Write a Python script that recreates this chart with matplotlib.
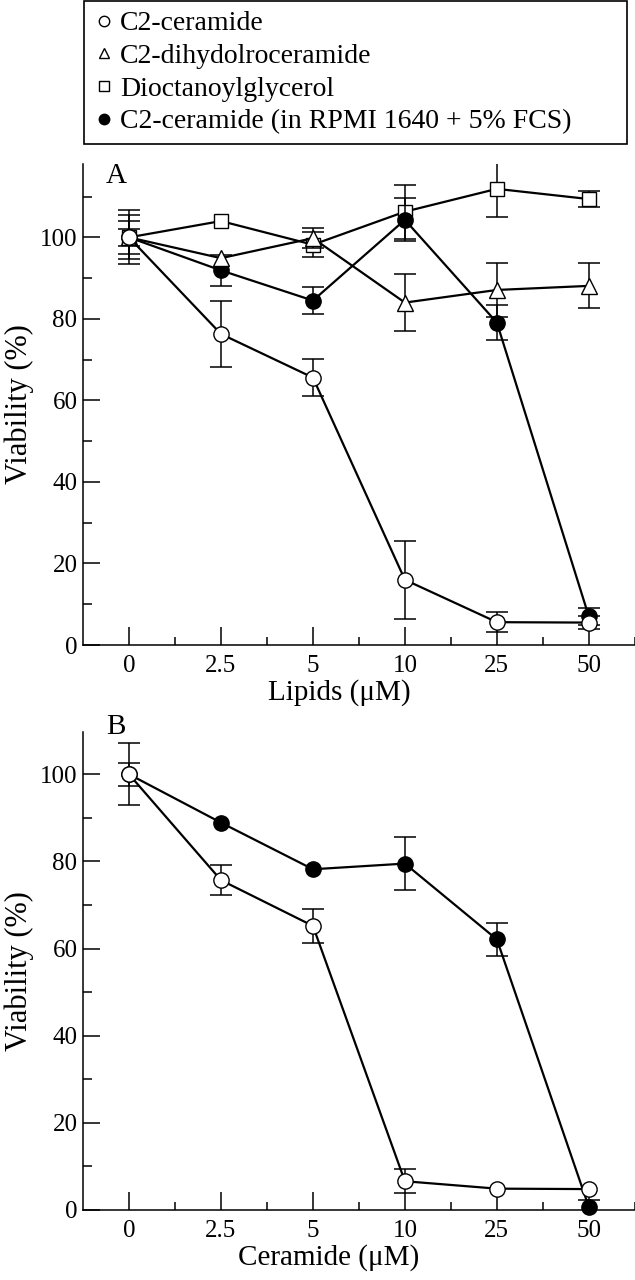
import numpy as np
import matplotlib.pyplot as plt
from matplotlib.lines import Line2D

plt.rcParams['font.family'] = ['Liberation Serif', 'DejaVu Serif']

# dose categories (evenly spaced on the x axis)
doses = ['0', '2.5', '5', '10', '25', '50']

# panel A: viability (%) and error
cer_a = [100, 76.3, 65.6, 16.0, 5.6, 5.5]
cer_a_err = [6.6, 8.2, 4.6, 9.5, 2.5, 1.5]
dihydro_a = [100, 94.9, 99.8, 84.0, 87.1, 88.1]
dihydro_a_err = [4.1, 0, 2.4, 7.0, 6.6, 5.5]
dog_a = [100, 104.0, 98.2, 106.3, 111.9, 109.4]
dog_a_err = [5.4, 0, 3.1, 6.6, 7.0, 2.0]
fcs_a = [100, 91.9, 84.5, 104.3, 79.1, 7.0]
fcs_a_err = [2.0, 3.8, 3.4, 5.3, 4.3, 2.0]

# panel B
cer_b = [100, 75.7, 65.2, 6.6, 4.9, 4.8]
cer_b_err = [7.1, 3.5, 3.9, 2.7, 0, 0]
fcs_b = [100, 88.9, 78.2, 79.5, 62.1, 0.7]
fcs_b_err = [2.7, 0, 0, 6.0, 3.7, 1.5]

labels = ['C2-ceramide', 'C2-dihydolroceramide', 'Dioctanoylglycerol',
          'C2-ceramide (in RPMI 1640 + 5% FCS)']

styles = {
    'cer': dict(marker='o', mfc='white', ms=11),
    'dihydro': dict(marker='^', mfc='white', ms=11.5),
    'dog': dict(marker='s', mfc='white', ms=10),
    'fcs': dict(marker='o', mfc='black', ms=11),
}

x = np.arange(len(doses))


def draw(ax, y, err, st, z):
    y = np.asarray(y, float)
    err = np.asarray(err, float)
    m = err > 0
    ax.errorbar(x[m], y[m], yerr=err[m], fmt='none', ecolor='black',
                elinewidth=1.1, capsize=8, capthick=1.1, zorder=z)
    ax.plot(x, y, color='black', lw=1.6, mec='black', mew=1.0,
            zorder=z + 0.5, clip_on=False, **st)


def style_axes(ax, top, xlabel, label_x, letter, letter_y):
    ax.set_xlim(-0.5, 5.5)
    ax.set_ylim(0, top)
    ax.spines['top'].set_visible(False)
    ax.spines['right'].set_visible(False)
    for s in ('left', 'bottom'):
        ax.spines[s].set_linewidth(1.1)
    ax.set_xticks(x)
    ax.set_xticklabels(doses)
    ax.set_xticks(np.arange(0.5, 5.6, 1.0), minor=True)
    ax.set_yticks(np.arange(0, 101, 20))
    ax.set_yticks(np.arange(10, top, 20), minor=True)
    ax.tick_params(axis='x', which='major', direction='in', length=13,
                   width=1.1, pad=7, labelsize=18)
    ax.tick_params(axis='x', which='minor', direction='in', length=6,
                   width=1.1)
    ax.tick_params(axis='y', which='major', direction='in', length=12,
                   width=1.1, pad=4, labelsize=18)
    ax.tick_params(axis='y', which='minor', direction='in', length=6.5,
                   width=1.1)
    ax.set_xlabel(xlabel, fontsize=21, x=label_x, labelpad=2)
    ax.set_ylabel('Viability (%)', fontsize=22, labelpad=4)
    ax.text(0.06, letter_y, letter, transform=ax.transAxes, fontsize=21,
            ha='center', va='center')


fig = plt.figure(figsize=(6.35, 12.8), dpi=100)
axA = fig.add_axes([83 / 635, 1 - 645 / 1280, 0.869, 481 / 1280])
axB = fig.add_axes([83 / 635, 1 - 1210 / 1280, 0.869, 478 / 1280])

draw(axA, dog_a, dog_a_err, styles['dog'], 3)
draw(axA, fcs_a, fcs_a_err, styles['fcs'], 4)
draw(axA, dihydro_a, dihydro_a_err, styles['dihydro'], 5)
draw(axA, cer_a, cer_a_err, styles['cer'], 6)
style_axes(axA, 118, 'Lipids (μM)', 0.465, 'A', 0.975)

draw(axB, fcs_b, fcs_b_err, styles['fcs'], 4)
draw(axB, cer_b, cer_b_err, styles['cer'], 6)
style_axes(axB, 109.7, 'Ceramide (μM)', 0.445, 'B', 1.01)

handles = [Line2D([], [], ls='none', color='black', mec='black', mew=1.0,
                  marker=styles[k]['marker'], mfc=styles[k]['mfc'], ms=7.5)
           for k in ('cer', 'dihydro', 'dog', 'fcs')]
leg = fig.legend(handles, labels, loc='upper left',
                 bbox_to_anchor=(84 / 635, 0.999, 543 / 635, 0),
                 mode='expand', fancybox=False, edgecolor='black',
                 framealpha=1, borderaxespad=0, handlelength=0.75,
                 handletextpad=0.2, labelspacing=0.26, borderpad=0.35,
                 fontsize=20)
leg.get_frame().set_linewidth(1.2)

fig.savefig('out.png', dpi=100)
